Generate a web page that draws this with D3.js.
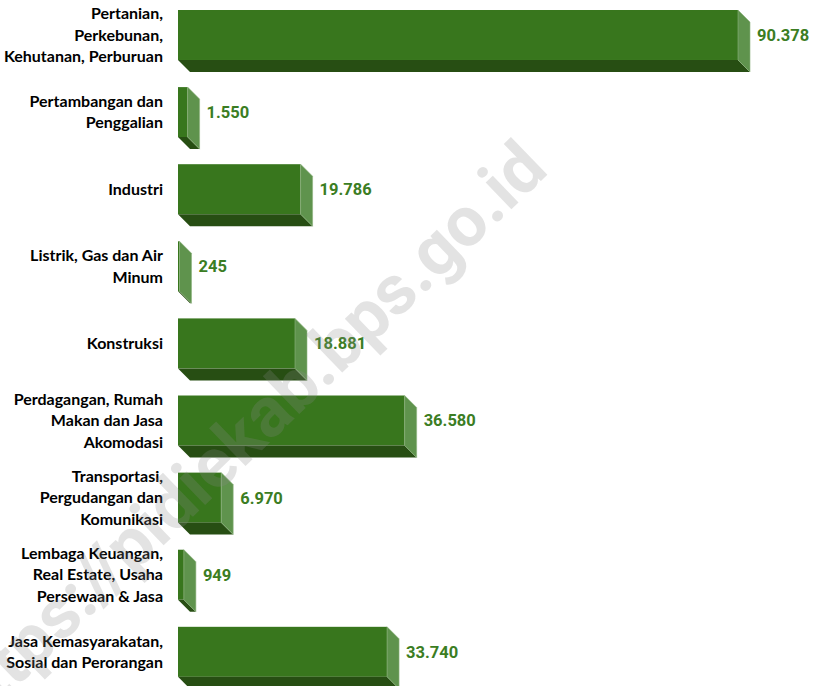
<!DOCTYPE html>
<html>
<head>
<meta charset="utf-8">
<script src="https://cdn.jsdelivr.net/npm/d3@7"></script>
<style>
  body { margin: 0; background: #fff; }
  svg { display: block; }
</style>
</head>
<body>
<svg id="chart" width="817" height="686"></svg>
<script>
const categories = [
  ["Pertanian,", "Perkebunan,", "Kehutanan, Perburuan"],
  ["Pertambangan dan", "Penggalian"],
  ["Industri"],
  ["Listrik, Gas dan Air", "Minum"],
  ["Konstruksi"],
  ["Perdagangan, Rumah", "Makan dan Jasa", "Akomodasi"],
  ["Transportasi,", "Pergudangan dan", "Komunikasi"],
  ["Lembaga Keuangan,", "Real Estate, Usaha", "Persewaan & Jasa"],
  ["Jasa Kemasyarakatan,", "Sosial dan Perorangan"]
];
const values = [90378, 1550, 19786, 245, 18881, 36580, 6970, 949, 33740];
const valueLabels = ["90.378", "1.550", "19.786", "245", "18.881", "36.580", "6.970", "949", "33.740"];
const watermark = "https://pidiekab.bps.go.id";

const svg = d3.select("#chart");
const depth = 12;

const data = categories.map((c, i) => ({ key: i, lines: c, value: values[i], label: valueLabels[i] }));

const x = d3.scaleLinear().domain([0, 90378]).range([178, 738]);
const y = d3.scaleBand()
  .domain(data.map(d => d.key))
  .range([10, 10 + 8 * 77.1 + 62])
  .paddingInner(0.196)
  .paddingOuter(0);

const frontH = y.bandwidth() - depth;

const bars = svg.append("g").selectAll("g")
  .data(data)
  .enter()
  .append("g");

// front face
bars.append("rect")
  .attr("x", x(0))
  .attr("y", d => y(d.key))
  .attr("width", d => x(d.value) - x(0))
  .attr("height", frontH)
  .attr("fill", "#38761d");

// bottom face
bars.append("path")
  .attr("d", d => {
    const x0 = x(0), x1 = x(d.value), yb = y(d.key) + frontH;
    return `M${x0},${yb}L${x1},${yb}L${x1 + depth},${yb + depth}L${x0 + depth},${yb + depth}Z`;
  })
  .attr("fill", "#274e13");

// right side face
bars.append("path")
  .attr("d", d => {
    const x1 = x(d.value), yt = y(d.key), yb = yt + frontH;
    return `M${x1},${yt}L${x1 + depth},${yt + depth}L${x1 + depth},${yb + depth}L${x1},${yb}Z`;
  })
  .attr("fill", "#5f934d")
  .attr("stroke", "#8fb47f")
  .attr("stroke-width", 0.6);

// value labels
bars.append("text")
  .attr("x", d => x(d.value) + depth + 7)
  .attr("y", d => y(d.key) + frontH / 2)
  .attr("dy", "0.36em")
  .attr("fill", "#3b7d23")
  .style("font-family", "Roboto, sans-serif")
  .style("font-weight", "bold")
  .style("font-size", "16.5px")
  .text(d => d.label);

// category labels
const lineH = 21.5;
bars.append("text")
  .attr("text-anchor", "end")
  .style("font-family", "Lato, sans-serif")
  .style("font-weight", "bold")
  .style("font-size", "16px")
  .attr("fill", "#000")
  .each(function(d) {
    const cy = y(d.key) + frontH / 2;
    const n = d.lines.length;
    d3.select(this).selectAll("tspan")
      .data(d.lines)
      .enter()
      .append("tspan")
      .attr("x", 163)
      .attr("y", (l, i) => cy + (i - (n - 1) / 2) * lineH)
      .attr("dy", "0.35em")
      .text(l => l);
  });

// watermark
svg.append("text")
  .attr("transform", "translate(550,172) rotate(-44)")
  .attr("text-anchor", "end")
  .style("font-family", "Roboto, sans-serif")
  .style("font-weight", "bold")
  .style("font-size", "70px")
  .attr("fill", "#888")
  .attr("fill-opacity", 0.24)
  .text(watermark);
</script>
</body>
</html>
